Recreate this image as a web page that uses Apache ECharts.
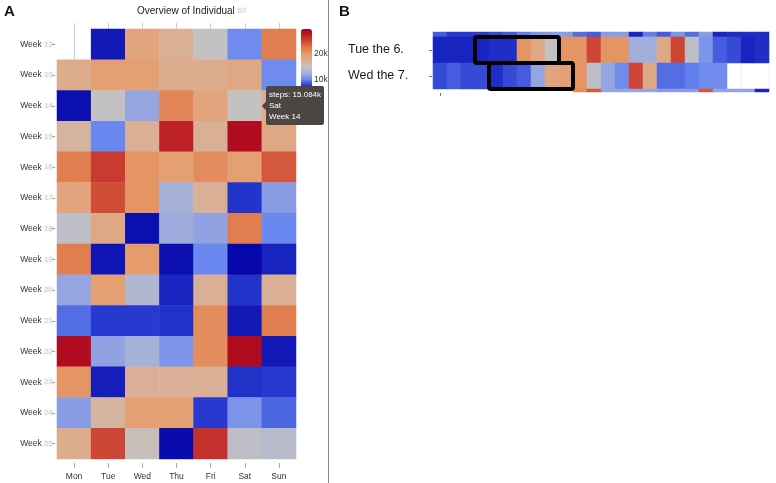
<!DOCTYPE html>
<html>
<head>
<meta charset="utf-8">
<script src="https://cdn.jsdelivr.net/npm/echarts@6/dist/echarts.min.js"></script>
<style>
  html, body { margin: 0; padding: 0; background: #fff; }
  #chart { width: 776px; height: 483px; }
</style>
</head>
<body>
<div id="chart"></div>
<script>
// panel A: daily steps, one row per week
const days = ["Mon", "Tue", "Wed", "Thu", "Fri", "Sat", "Sun"];
const weeks = ["Week 12", "Week 13", "Week 14", "Week 15", "Week 16", "Week 17", "Week 18",
  "Week 19", "Week 20", "Week 21", "Week 22", "Week 23", "Week 24", "Week 25"];
const weekSteps = [
  [null, 6500, 19000, 17500, 15000, 10500, 22000],
  [18000, 19500, 19500, 18000, 18000, 18500, 10500],
  [6000, 15000, 12000, 21500, 19000, 15084, 18000],
  [17000, 10300, 17500, 27000, 17500, 28500, 18500],
  [22000, 25500, 20500, 19500, 21000, 19500, 24000],
  [19000, 24500, 20500, 12700, 17500, 7800, 11500],
  [14500, 18500, 6000, 12300, 11800, 22000, 10300],
  [22000, 6300, 20000, 6000, 10300, 5600, 7000],
  [12000, 19500, 13500, 7000, 17500, 7800, 17500],
  [9500, 8000, 8000, 7700, 21000, 6500, 22000],
  [28500, 11800, 12700, 11000, 21000, 28700, 6500],
  [20500, 6700, 17500, 17500, 17500, 7700, 8000],
  [11500, 17000, 19500, 19500, 8000, 11000, 9300],
  [18000, 25000, 15500, 5800, 26000, 14500, 14000]
];
const scaleTicks = [10000, 20000];

// panel B: hourly values for single days
const hours = ["0", "1", "2", "3", "4", "5", "6", "7", "8", "9", "10", "11",
  "12", "13", "14", "15", "16", "17", "18", "19", "20", "21", "22", "23"];
const dayRows = ["Tue the 6.", "Wed the 7."];
const mon5 = [9000, 8000, 8000, 8000, 8500, 9000, 10000, 11000, 11500, 11500, 9500, 9000,
  11500, 11500, 7000, 10000, 9000, 11000, 9500, 11500, 7000, 7500, 7500, 7500];
const tue6 = [7000, 7000, 7000, 7000, 7500, 7500, 20500, 18500, 15000, 20500, 20500, 25000,
  20500, 20500, 12500, 12500, 18500, 25000, 14500, 11000, 9000, 8500, 7000, 7500];
const wed7 = [8500, 9000, 8500, 8500, 7500, 8500, 9000, 12000, 19000, 19500, 20500, 14500,
  12000, 10500, 25000, 18500, 9500, 9500, 10000, 10500, 10500, null, null, null];
const thu8 = [null, null, null, null, null, null, null, null, null, null, 21000, 24000,
  12000, 12000, 12000, 12000, 11500, 11500, 11500, 24000, 12000, 12000, 12000, 7000];
// [first hour, last hour, row]
const highlights = [[3, 8, 0], [4, 9, 1]];

const palette = ["#0505a8", "#2436cc", "#6a88f0", "#a6b1d8", "#c4c2c0", "#d9b096",
  "#e69c6c", "#e07a4c", "#cf4a36", "#bd1e26", "#a8001a"];

const font = "Helvetica, Arial, sans-serif";

function cells(rows) {
  const out = [];
  rows.forEach((row, r) => row.forEach((v, c) => { if (v != null) out.push([c, r, v]); }));
  return out;
}

const blur = { fontSize: 8, color: "#d2d2d2", textShadowBlur: 3, textShadowColor: "#c4c4c4" };

const myChart = echarts.init(document.getElementById("chart"));
myChart.setOption({
  animation: false,
  textStyle: { fontFamily: font },
  title: [
    { text: "A", left: 4, top: 4, padding: 0, textStyle: { fontSize: 15, fontWeight: "bold", color: "#111" } },
    {
      text: "Overview of Individual {n|07}", left: 137, top: 6, padding: 0,
      textStyle: { fontSize: 10, fontWeight: "normal", color: "#222", rich: { n: blur } }
    },
    { text: "B", left: 339, top: 4, padding: 0, textStyle: { fontSize: 15, fontWeight: "bold", color: "#111" } }
  ],
  graphic: [
    { type: "line", shape: { x1: 328.5, y1: 0, x2: 328.5, y2: 483 }, style: { stroke: "#8a8a8a", lineWidth: 1 } }
  ],
  tooltip: {
    trigger: "item",
    position: "right",
    alwaysShowContent: true,
    transitionDuration: 0,
    backgroundColor: "#4b4642",
    borderWidth: 0,
    padding: [3, 3],
    textStyle: { color: "#fff", fontSize: 8, lineHeight: 11, fontFamily: font },
    extraCssText: "border-radius:2px;box-shadow:none;margin-left:-4px;",
    formatter: (p) => "steps: " + (p.value[2] / 1000).toFixed(3) + "k<br/>" +
      days[p.value[0]] + "<br/>" + weeks[p.value[1]]
  },
  visualMap: {
    type: "continuous",
    min: 5500,
    max: 29500,
    seriesIndex: [0, 1, 2, 3],
    left: 301,
    top: 29,
    padding: 0,
    itemWidth: 11,
    itemHeight: 63,
    calculable: false,
    hoverLink: false,
    inRange: { color: palette }
  },
  grid: [
    { left: 57, top: 29, width: 239, height: 430 },
    { left: 74, top: 23, width: 205, height: 436 },
    { left: 311, top: 28, width: 1, height: 78 },
    { left: 433, top: 32, width: 336, height: 5 },
    { left: 433, top: 37, width: 336, height: 52 },
    { left: 433, top: 89, width: 336, height: 3 }
  ],
  xAxis: [
    {
      gridIndex: 0, type: "category", data: days, position: "bottom", offset: 4,
      axisLine: { show: false },
      axisTick: { show: true, alignWithLabel: true, length: 5, lineStyle: { color: "#aaa" } },
      axisLabel: { fontSize: 8.5, color: "#333", margin: 9 },
      splitLine: { show: false }
    },
    {
      gridIndex: 1, type: "category", data: days, boundaryGap: false,
      axisLine: { show: false }, axisTick: { show: false }, axisLabel: { show: false },
      splitLine: { show: true, lineStyle: { color: "#cfcfcf", width: 1 } }
    },
    { gridIndex: 2, type: "value", show: false },
    { gridIndex: 3, type: "category", data: hours, show: false },
    {
      gridIndex: 4, type: "category", data: hours,
      axisLine: { show: false }, axisTick: { show: false }, axisLabel: { show: false },
      splitLine: { show: true, lineStyle: { color: "#f1f1f1" } }
    },
    {
      gridIndex: 5, type: "category", data: hours, offset: 1,
      axisLine: { show: false },
      axisTick: { show: true, alignWithLabel: true, length: 3, interval: (i) => i === 0, lineStyle: { color: "#777" } },
      axisLabel: { show: false }
    }
  ],
  yAxis: [
    {
      gridIndex: 0, type: "category", data: weeks, inverse: true, offset: 2,
      axisLine: { show: false },
      axisTick: { show: true, alignWithLabel: true, length: 3, lineStyle: { color: "#999" } },
      axisLabel: {
        fontSize: 8.5, color: "#333", margin: 2,
        formatter: (v) => "Week {n|" + v.replace("Week ", "") + "}",
        rich: { n: blur }
      }
    },
    { gridIndex: 1, type: "value", show: false },
    {
      gridIndex: 2, type: "value", min: 0, max: 30000, interval: 10000, position: "right",
      axisLine: { show: false }, axisTick: { show: false }, splitLine: { show: false },
      axisLabel: {
        fontSize: 8.5, color: "#333", margin: 2,
        formatter: (v) => scaleTicks.includes(v) ? v / 1000 + "k" : ""
      }
    },
    { gridIndex: 3, type: "category", data: ["Mon the 5."], show: false },
    {
      gridIndex: 4, type: "category", data: dayRows, inverse: true, offset: 1,
      axisLine: { show: false },
      axisTick: { show: true, alignWithLabel: true, length: 3, lineStyle: { color: "#777" } },
      axisLabel: { fontSize: 12.5, color: "#1a1a1a", align: "left", margin: 84 }
    },
    { gridIndex: 5, type: "category", data: ["Thu the 8."], show: false }
  ],
  series: [
    {
      name: "steps", type: "heatmap", xAxisIndex: 0, yAxisIndex: 0,
      data: cells(weekSteps), emphasis: { disabled: true }
    },
    {
      type: "heatmap", xAxisIndex: 3, yAxisIndex: 3, silent: true,
      data: cells([mon5]), tooltip: { show: false }
    },
    {
      type: "heatmap", xAxisIndex: 4, yAxisIndex: 4, silent: true,
      data: cells([tue6, wed7]), tooltip: { show: false }
    },
    {
      type: "heatmap", xAxisIndex: 5, yAxisIndex: 5, silent: true,
      data: cells([thu8]), tooltip: { show: false }
    },
    {
      type: "custom", xAxisIndex: 4, yAxisIndex: 4, silent: true, clip: false, z: 10,
      encode: { x: [0, 1], y: 2 },
      tooltip: { show: false },
      data: highlights,
      renderItem: (params, api) => {
        const p0 = api.coord([api.value(0), api.value(2)]);
        const p1 = api.coord([api.value(1), api.value(2)]);
        const size = api.size([1, 1]);
        return {
          type: "rect",
          shape: { x: p0[0] - size[0] / 2, y: p0[1] - size[1] / 2, width: p1[0] - p0[0] + size[0], height: size[1], r: 2 },
          style: { fill: "none", stroke: "#000", lineWidth: 4 }
        };
      }
    }
  ]
});

// hovered cell from the reference: Sat of Week 14
const tipIndex = cells(weekSteps).findIndex((d) => d[0] === 5 && d[1] === 2);
myChart.dispatchAction({ type: "showTip", seriesIndex: 0, dataIndex: tipIndex });
</script>
</body>
</html>
